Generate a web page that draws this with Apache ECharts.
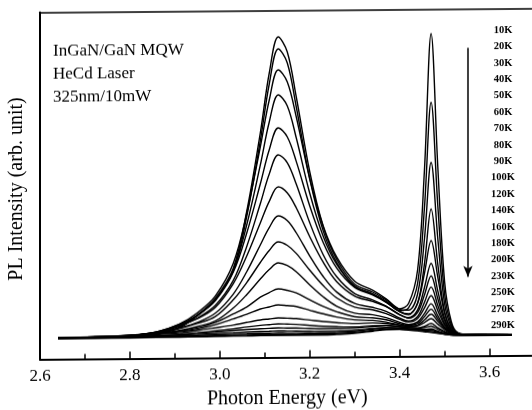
<!DOCTYPE html>
<html>
<head>
<meta charset="utf-8">
<script src="https://cdn.jsdelivr.net/npm/echarts@6/dist/echarts.min.js"></script>
<style>
  html, body { margin: 0; padding: 0; background: #fff; overflow: hidden; }
  /* the scanned figure is slightly tilted: right side sits a few px higher */
  #chart { width: 532px; height: 410px; transform: skewY(-0.47deg); transform-origin: 266px 205px; }
</style>
</head>
<body>
<div id="chart"></div>
<script>
// photon energy grid (eV), shared by every spectrum
const energy = [2.64, 2.72, 2.80, 2.86, 2.91, 2.95, 2.99, 3.03, 3.06, 3.09, 3.11, 3.13, 3.15, 3.17, 3.20,
  3.23, 3.26, 3.30, 3.34, 3.37, 3.40, 3.42, 3.44, 3.455, 3.47, 3.485, 3.50, 3.515, 3.53, 3.56, 3.65];

const temps = ['10K', '20K', '30K', '40K', '50K', '60K', '70K', '80K', '90K', '100K',
  '120K', '140K', '160K', '180K', '200K', '230K', '250K', '270K', '290K'];

// PL intensity (arb. unit), one row per temperature
const pl10 = [1, 1.5, 2.4, 4.5, 10.5, 22.5, 39, 69, 126, 204, 264, 300, 285, 240, 165, 110, 77, 52, 44, 36, 27, 32.5, 66, 164, 302, 168, 54, 13.8, 2.5, 0.8, 0.5];
const pl20 = [0.9, 1.4, 2.3, 4.3, 10, 21.6, 37.4, 66, 121, 196, 253, 288, 274, 230, 158, 105.6, 73.9, 49.8, 42, 34.4, 25.2, 28.1, 52.5, 126.7, 233.4, 129.3, 41.6, 10.8, 2.2, 0.8, 0.5];
const pl30 = [1.1, 1.6, 2.9, 6.1, 13.6, 24.8, 41.4, 74, 124, 190, 237, 267, 255, 220, 158, 110.5, 79.3, 54.9, 45.8, 37.1, 26.7, 25.7, 41.8, 95.7, 173.3, 96.5, 31.8, 8.4, 1.8, 0.7, 0.4];
const pl40 = [1, 1.5, 2.7, 5.6, 12.3, 22.5, 37.5, 67, 112.5, 171.8, 215, 242, 231, 199, 143.5, 100.2, 72, 50.1, 42.2, 34.3, 24.4, 22, 32.7, 71.1, 126.8, 70.8, 23.7, 6.2, 1.6, 0.7, 0.4];
const pl50 = [1, 1.5, 2.7, 6.1, 13.4, 22.4, 36.8, 65.2, 104.3, 153, 187.3, 209, 200, 175.4, 130.8, 94, 68.4, 48.8, 41.1, 33.7, 24.4, 21.3, 32.4, 62, 95, 58.1, 22.4, 5.2, 1.5, 0.7, 0.4];
const pl60 = [0.8, 1.3, 2.4, 5.3, 11.6, 19.5, 32, 56.8, 90.8, 133.2, 163, 182, 174.2, 152.7, 113.9, 81.8, 59.7, 42.7, 36.2, 29.8, 21.5, 18.2, 25.9, 47.8, 72.2, 44.3, 17.4, 4.3, 1.4, 0.7, 0.4];
const pl70 = [0.9, 1.2, 2.6, 5.9, 12.2, 18.8, 30, 53.6, 81.2, 114, 135.6, 150, 144, 129, 100, 74.3, 54.8, 40.2, 34.6, 29.4, 21.2, 17.8, 23.5, 40.6, 59.7, 36.8, 14.9, 3.9, 1.4, 0.7, 0.4];
const pl80 = [0.7, 1, 2.1, 4.7, 9.8, 15.1, 24.2, 43.2, 65.5, 92, 109.4, 121, 116.2, 104, 80.7, 60, 44.4, 32.8, 28.7, 24.7, 17.8, 14.8, 19.3, 33.1, 48.6, 30, 12.1, 3.4, 1.3, 0.6, 0.4];
const pl90 = [0.7, 1, 2.4, 5.2, 9.3, 14.1, 20.9, 37.5, 54.7, 74.5, 86.5, 95, 91.5, 83.4, 66.5, 50.9, 38.5, 29.1, 26.2, 22.3, 16.6, 13.9, 17.3, 27.6, 40, 24.9, 10.4, 3, 1.3, 0.6, 0.4];
const pl100 = [0.5, 0.8, 1.9, 4.1, 7.3, 11, 16.3, 29.2, 42.6, 58, 67.4, 74, 71.3, 65, 51.8, 39.7, 30.2, 23.1, 21.4, 18.3, 13.6, 11.3, 13.9, 22.1, 31.9, 19.8, 8.2, 2.6, 1.2, 0.6, 0.4];
const pl120 = [0.5, 1, 2.4, 4.3, 6.5, 9.6, 14.8, 23.3, 30.2, 39.8, 44.4, 48, 46.5, 43.8, 36.9, 30.1, 24.7, 19.5, 18.2, 16.2, 12.2, 10.5, 12.3, 18.9, 26.4, 16.8, 7.6, 2.6, 1.2, 0.6, 0.4];
const pl140 = [0.6, 1.2, 2.7, 4.1, 6.1, 8.4, 12.7, 18.3, 22.8, 28, 30, 32, 31.2, 30.2, 26.4, 22.7, 19.4, 16.4, 15.6, 13.9, 10.9, 9.5, 10.7, 15.7, 21.5, 14.3, 7, 2.5, 1.2, 0.6, 0.4];
const pl160 = [0.8, 1.5, 2.4, 3.6, 4.9, 7, 9.5, 12.1, 14.7, 17, 18, 19, 18.6, 18.2, 16.6, 15, 13.8, 12.6, 13.1, 12.5, 10.6, 9.4, 10, 13.2, 17, 11.4, 6, 2, 1, 0.5, 0.3];
const pl180 = [0.5, 1, 1.6, 2.4, 3.4, 4.8, 6.5, 8.3, 10.1, 11.6, 12.3, 13, 12.7, 12.4, 11.3, 10.3, 9.7, 9.3, 10.4, 10.6, 9.3, 8.2, 7.8, 9.4, 12.2, 7.8, 4.1, 1.5, 0.8, 0.4, 0.3];
const pl200 = [0.7, 1.1, 1.7, 2.3, 3.3, 4.2, 5.3, 6.5, 7.5, 8.2, 8.6, 9, 8.8, 8.7, 8.2, 7.7, 7.7, 8.1, 9.5, 10.2, 9.3, 8.4, 7.6, 8.2, 9.5, 6.4, 3.6, 1.2, 0.6, 0.4, 0.3];
const pl230 = [0.5, 0.7, 1.1, 1.5, 2.2, 2.8, 3.6, 4.3, 5, 5.5, 5.7, 6, 5.9, 5.8, 5.5, 5.2, 5.4, 6, 7.5, 8.4, 7.7, 7.1, 6.2, 6.2, 6.7, 4.5, 2.5, 1, 0.5, 0.3, 0.2];
const pl250 = [0.3, 0.5, 0.7, 1, 1.5, 1.9, 2.4, 2.9, 3.3, 3.7, 3.8, 4, 3.9, 3.9, 3.7, 3.5, 3.9, 4.8, 6.7, 8, 7.7, 7, 6.2, 5.5, 5.5, 3.7, 2, 0.8, 0.4, 0.3, 0.2];
const pl270 = [0.2, 0.3, 0.5, 0.6, 0.9, 1.2, 1.5, 1.8, 2.1, 2.3, 2.4, 2.5, 2.5, 2.4, 2.3, 2.2, 2.7, 3.7, 5.5, 6.9, 6.8, 6.3, 5.4, 4.4, 4, 2.7, 1.5, 0.5, 0.3, 0.2, 0.1];
const pl290 = [0.1, 0.2, 0.3, 0.4, 0.5, 0.7, 0.9, 1.1, 1.2, 1.4, 1.4, 1.5, 1.5, 1.4, 1.4, 1.4, 1.9, 2.9, 4.8, 6.2, 6.4, 5.8, 4.9, 3.9, 3.3, 2.2, 1.3, 0.4, 0.2, 0.1, 0.1];

const spectra = [pl10, pl20, pl30, pl40, pl50, pl60, pl70, pl80, pl90, pl100,
  pl120, pl140, pl160, pl180, pl200, pl230, pl250, pl270, pl290];

const notes = ['InGaN/GaN MQW', 'HeCd Laser', '325nm/10mW'];

// "increasing temperature" arrow, in data units
const arrowAt = [3.552, 287.5, 58.5];

const serif = "'Liberation Serif', 'Times New Roman', serif";

const chart = echarts.init(document.getElementById('chart'), null, { renderer: 'canvas' });

const series = spectra.map((row, i) => ({
  type: 'line',
  name: temps[i],
  xAxisIndex: 0,
  data: energy.map((e, j) => [e, row[j]]),
  smooth: 0.35,
  symbol: 'none',
  silent: true,
  lineStyle: { color: '#000', width: 1.4 },
  z: 2,
}));

series[0].markLine = {
  silent: true,
  symbol: ['none', 'arrow'],
  symbolSize: [7, 11],
  label: { show: false },
  lineStyle: { color: '#000', width: 1.5, type: 'solid' },
  data: [[{ coord: [arrowAt[0], arrowAt[1]] }, { coord: [arrowAt[0], arrowAt[2]] }]],
};

const graphic = [];
notes.forEach((t, i) => {
  graphic.push({
    type: 'text', left: 53, top: 41 + i * 23,
    style: { text: t, font: `17px ${serif}`, fill: '#000' },
  });
});
temps.forEach((t, i) => {
  graphic.push({
    type: 'text', x: 503, y: 32 + i * 16.4,
    style: { text: t, font: `bold 10.5px ${serif}`, fill: '#000', align: 'center', verticalAlign: 'middle' },
  });
});

const frameLine = { show: true, onZero: false, lineStyle: { color: '#000', width: 2 } };

chart.setOption({
  animation: false,
  backgroundColor: '#fff',
  grid: { left: 40, right: -2.5, top: 10.5, bottom: 52.5, outerBoundsMode: 'none', containLabel: false },
  xAxis: [{
    type: 'value',
    min: 2.6, max: 3.7, interval: 0.2,
    name: 'Photon Energy (eV)',
    nameLocation: 'middle',
    nameGap: 30,
    nameTextStyle: { fontFamily: serif, fontSize: 20, color: '#000' },
    axisLine: frameLine,
    axisTick: { show: true, inside: true, length: 7, lineStyle: { color: '#000', width: 1.5 } },
    minorTick: { show: true, splitNumber: 2, length: 5, lineStyle: { color: '#000', width: 1.5 } },
    splitLine: { show: false },
    axisLabel: {
      showMaxLabel: false,
      margin: 9,
      fontFamily: serif, fontSize: 17, color: '#000',
      formatter: v => v.toFixed(1),
    },
  }, {
    // top edge of the frame only
    type: 'value', position: 'top',
    min: 2.6, max: 3.7,
    axisLine: { show: true, onZero: false, lineStyle: { color: '#000', width: 1.5 } },
    axisTick: { show: false },
    axisLabel: { show: false },
    splitLine: { show: false },
  }],
  yAxis: {
    type: 'value',
    min: -20.5, max: 326.5,
    name: 'PL Intensity (arb. unit)',
    nameLocation: 'middle',
    nameRotate: 90,
    nameGap: 13,
    nameTextStyle: { fontFamily: serif, fontSize: 20, color: '#000', padding: [0, 6, 0, 0] },
    axisLine: frameLine,
    axisTick: { show: false },
    axisLabel: { show: false },
    splitLine: { show: false },
  },
  graphic,
  series,
});
</script>
</body>
</html>
